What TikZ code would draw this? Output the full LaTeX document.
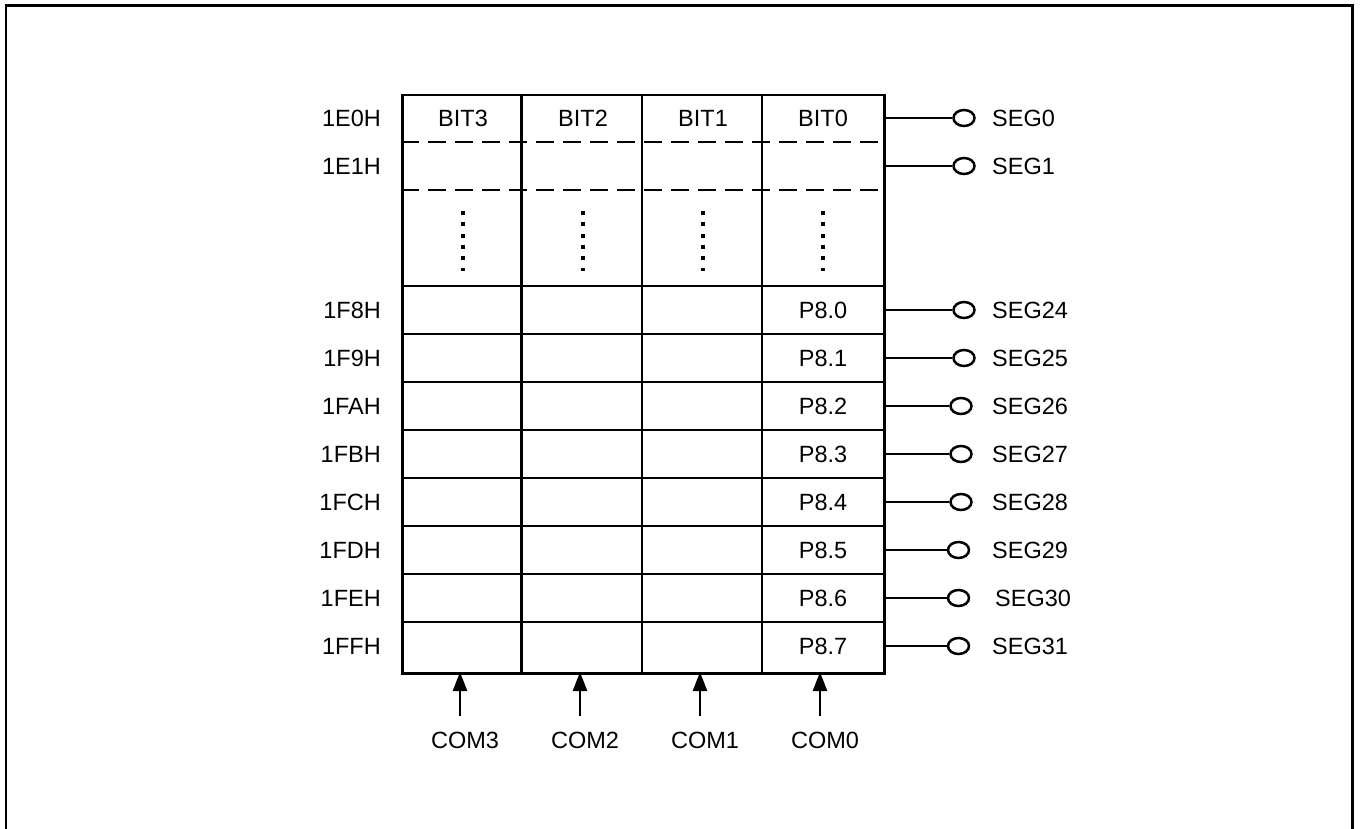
\documentclass[tikz,border=0pt]{standalone}
\usepackage{fontspec}
\setmainfont{Liberation Sans}
\usetikzlibrary{arrows.meta,shapes.geometric}
\begin{document}
\begin{tikzpicture}[x=1pt,y=-1pt,
  grid/.style={line width=2.5pt},
  dashrow/.style={line width=2.5pt, dash pattern=on 18pt off 9pt},
  dotcol/.style={line width=4pt, dash pattern=on 4pt off 7.3pt},
  txt/.style={font=\fontsize{23.5}{27}\selectfont, inner sep=0pt, anchor=base},
  addr/.style={txt, anchor=base east},
  seglabel/.style={txt, anchor=base west},
  pin/.style={draw, ellipse, line width=2.5pt, minimum width=21pt, minimum height=16pt, inner sep=0pt},
  comarrow/.style={line width=2.8pt, -{Triangle[length=19pt,width=14pt]}}]
\useasboundingbox (0,0) rectangle (1360,829);
% outer frame
\draw[line width=2.4pt] (5.7,835) -- (5.7,5.7) -- (1352.3,5.7) -- (1352.3,835);
% table
\node[draw, grid, minimum width=482pt, minimum height=578pt, anchor=north west, inner sep=0pt] (tbl) at (401,94) {};
\foreach \x in {521.5,642,762} \draw[grid] (\x,94) -- (\x,672);
\draw[dashrow] (401,142) -- (883,142);
\draw[dashrow] (401,190) -- (883,190);
\foreach \y in {286,334,382,430,478,526,574,622} \draw[grid] (401,\y) -- (883,\y);
% dotted continuation
\foreach \x in {463,583,703,823} \draw[dotcol] (\x,211) -- (\x,271);
% header text
\node[txt] (b3) at (463,126.3) {BIT3};
\node[txt] (b2) at (583,126.3) {BIT2};
\node[txt] (b1) at (703,126.3) {BIT1};
\node[txt] (b0) at (823,126.3) {BIT0};
% address labels
\node[addr] (a0) at (381,126.3) {1E0H};
\node[addr] (a1) at (381,174.3) {1E1H};
\node[addr] (a24) at (381,318.3) {1F8H};
\node[addr] (a25) at (381,366.3) {1F9H};
\node[addr] (a26) at (381,414.3) {1FAH};
\node[addr] (a27) at (381,462.3) {1FBH};
\node[addr] (a28) at (381,510.3) {1FCH};
\node[addr] (a29) at (381,558.3) {1FDH};
\node[addr] (a30) at (381,606.3) {1FEH};
\node[addr] (a31) at (381,654.3) {1FFH};
% P8 labels
\node[txt] (q0) at (823,318.3) {P8.0};
\node[txt] (q1) at (823,366.3) {P8.1};
\node[txt] (q2) at (823,414.3) {P8.2};
\node[txt] (q3) at (823,462.3) {P8.3};
\node[txt] (q4) at (823,510.3) {P8.4};
\node[txt] (q5) at (823,558.3) {P8.5};
\node[txt] (q6) at (823,606.3) {P8.6};
\node[txt] (q7) at (823,654.3) {P8.7};
% SEG pins
\foreach \n/\y/\cx/\tx/\lab in {0/118/964/992/SEG0, 1/166/964/992/SEG1,
  24/310/964/992/SEG24, 25/358/964/992/SEG25, 26/406/961/992/SEG26,
  27/454/961/992/SEG27, 28/502/961/992/SEG28, 29/550/958.5/992/SEG29,
  30/598/958.5/995/SEG30, 31/646/958.5/992/SEG31}{
  \coordinate (e\n) at (883,\y);
  \node[pin] (p\n) at (\cx,\y) {};
  \node[seglabel] (s\n) at (\tx,\y+8.3) {\lab};
  \draw[grid] (e\n) -- (p\n.west);
}
% COM arrows
\foreach \n/\x in {3/460,2/580,1/700,0/820}{
  \coordinate (cs\n) at (\x,716);
  \coordinate (ce\n) at (\x,672);
  \draw[comarrow] (cs\n) -- (ce\n);
  \node[txt] (com\n) at (\x+5,748.3) {COM\n};
}
\end{tikzpicture}
\end{document}
